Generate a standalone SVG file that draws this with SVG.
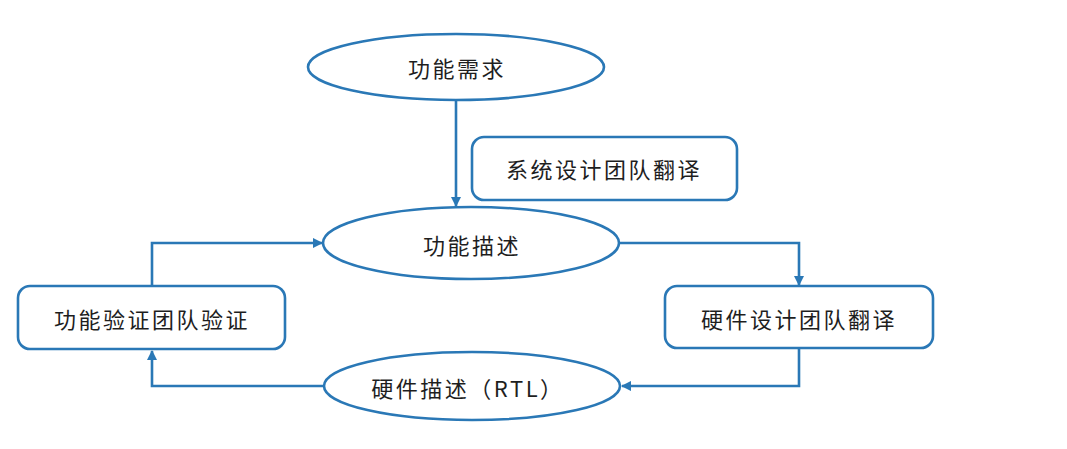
<svg xmlns="http://www.w3.org/2000/svg" width="1067" height="449" viewBox="0 0 1067 449">
<defs>
<marker id="arr" viewBox="0 0 10 10" refX="9" refY="5" markerWidth="4" markerHeight="4" orient="auto" markerUnits="strokeWidth">
<path d="M0,0 L10,5 L0,10 z" fill="#2a78b6"/>
</marker>
</defs>
<style>
.shape{fill:#fff;stroke:#2a78b6;stroke-width:2.6}
.lbl{font-family:"Noto Sans CJK SC","Liberation Sans",sans-serif;font-size:22px;font-weight:400;fill:#1e1e1e;text-anchor:middle;dominant-baseline:central;letter-spacing:2.5px}
.conn{fill:none;stroke:#2a78b6;stroke-width:2.6;marker-end:url(#arr)}
</style>
<rect width="1067" height="449" fill="#fff"/>
<g id="connectors">
<path class="conn" d="M456,101 V206"/>
<path class="conn" d="M620,243 H799 V285"/>
<path class="conn" d="M799,349 V386 H622"/>
<path class="conn" d="M324,386 H152 V351"/>
<path class="conn" d="M152,285 V243 H322"/>
</g>
<g id="n1"><ellipse class="shape" cx="456" cy="67" rx="148" ry="33"/><text class="lbl" x="457" y="67">功能需求</text></g>
<g id="n2"><rect class="shape" x="472" y="137" width="265" height="63" rx="12"/><text class="lbl" x="604" y="168">系统设计团队翻译</text></g>
<g id="n3"><ellipse class="shape" cx="471" cy="243" rx="148" ry="36"/><text class="lbl" x="472" y="244">功能描述</text></g>
<g id="n4"><rect class="shape" x="18" y="286" width="267" height="63" rx="12"/><text class="lbl" x="152" y="318">功能验证团队验证</text></g>
<g id="n5"><rect class="shape" x="665" y="286" width="268" height="62" rx="12"/><text class="lbl" x="799" y="318">硬件设计团队翻译</text></g>
<g id="n6"><ellipse class="shape" cx="472" cy="386" rx="148" ry="34"/><text class="lbl" x="468" y="387">硬件描述（RTL）</text></g>
</svg>
